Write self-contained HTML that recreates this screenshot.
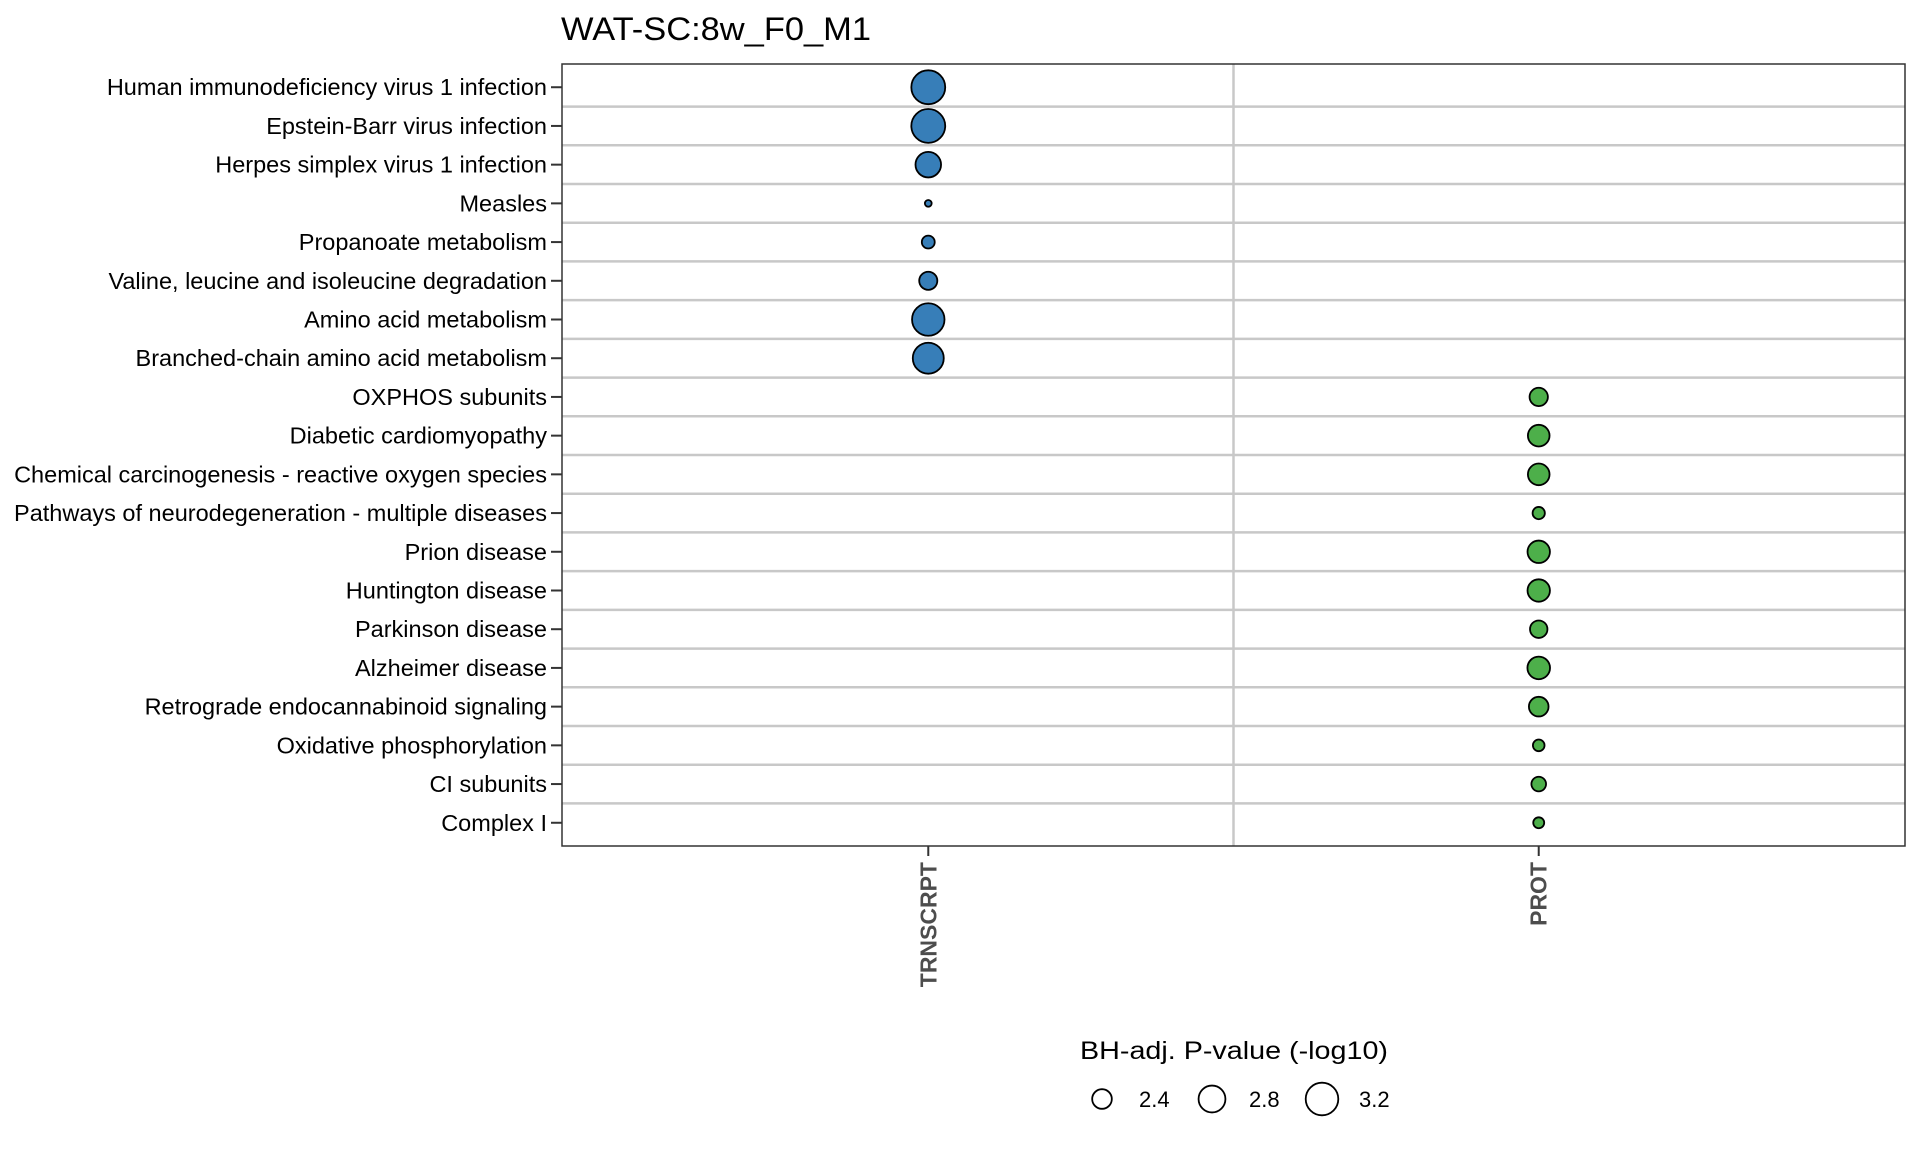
<!DOCTYPE html>
<html><head><meta charset="utf-8"><style>
html,body{margin:0;padding:0;background:#fff;}
svg text{font-family:"Liberation Sans",Arial,sans-serif;}
</style></head><body>
<svg id="chart" width="1920" height="1152" viewBox="0 0 1920 1152" xmlns="http://www.w3.org/2000/svg">
<rect x="0" y="0" width="1920" height="1152" fill="#fff"/>
<text x="561" y="40" font-size="32" textLength="310" lengthAdjust="spacingAndGlyphs" fill="#000">WAT-SC:8w_F0_M1</text>
<g id="grid"></g>
<g id="marks"></g>
<rect x="562" y="64" width="1343" height="782" fill="none" stroke="#333" stroke-width="1.5"/>
<g id="axes"></g>
<g id="legend">
<text x="1080" y="1059" font-size="25" textLength="308" lengthAdjust="spacingAndGlyphs">BH-adj. P-value (-log10)</text>
</g>
</svg>
<script>
const pathways = ["Human immunodeficiency virus 1 infection","Epstein-Barr virus infection","Herpes simplex virus 1 infection","Measles","Propanoate metabolism","Valine, leucine and isoleucine degradation","Amino acid metabolism","Branched-chain amino acid metabolism","OXPHOS subunits","Diabetic cardiomyopathy","Chemical carcinogenesis - reactive oxygen species","Pathways of neurodegeneration - multiple diseases","Prion disease","Huntington disease","Parkinson disease","Alzheimer disease","Retrograde endocannabinoid signaling","Oxidative phosphorylation","CI subunits","Complex I"];
const omes = ["TRNSCRPT","PROT"];
const pointOme = ["TRNSCRPT","TRNSCRPT","TRNSCRPT","TRNSCRPT","TRNSCRPT","TRNSCRPT","TRNSCRPT","TRNSCRPT","PROT","PROT","PROT","PROT","PROT","PROT","PROT","PROT","PROT","PROT","PROT","PROT"];
const pValues = [3.30,3.30,2.72,1.97,2.13,2.33,3.19,3.08,2.34,2.50,2.50,2.11,2.54,2.54,2.30,2.55,2.40,2.09,2.19,2.07];
const legendValues = [2.4,2.8,3.2];
const legendLabels = ["2.4","2.8","3.2"];

const NS="http://www.w3.org/2000/svg";
const P={l:562,r:1905,t:64,b:846};
const yStep=(P.b-P.t)/(pathways.length-1+1.2);
const xStep=(P.r-P.l)/(omes.length-1+1.2);
function yS(i){return P.t+(0.6+i)*yStep;}
function xS(o){return P.l+(0.6+omes.indexOf(o))*xStep;}
function rS(v){return Math.sqrt(Math.max(4,227.5*v-429));}
function mk(tag,attrs,parent){const e=document.createElementNS(NS,tag);for(const k in attrs)e.setAttribute(k,attrs[k]);parent.appendChild(e);return e;}
const grid=document.getElementById('grid'),marks=document.getElementById('marks'),axes=document.getElementById('axes'),legend=document.getElementById('legend');
for(let i=0;i<pathways.length-1;i++){
  const y=(yS(i)+yS(i+1))/2;
  const l=mk('line',{x1:P.l,x2:P.r,y1:y,y2:y,stroke:'#c8c8c8','stroke-width':2.5},grid);
  
  
}
for(let j=0;j<omes.length-1;j++){
  const x=(xS(omes[j])+xS(omes[j+1]))/2;
  const l=mk('line',{x1:x,x2:x,y1:P.t,y2:P.b,stroke:'#c8c8c8','stroke-width':2.5},grid);
  
  
}
pathways.forEach((p,i)=>{
  const y=yS(i);
  const t=mk('text',{x:547,y:y+8,'font-size':23.5,'text-anchor':'end',fill:'#000'},axes);
  t.textContent=p;
  
  
  const tk=mk('line',{x1:551,x2:562,y1:y,y2:y,stroke:'#333','stroke-width':2},axes);
  
  
  const c=mk('circle',{cx:xS(pointOme[i]),cy:y,r:rS(pValues[i])-1,fill:pointOme[i]==='PROT'?'#4daf4a':'#377eb8',stroke:'#000','stroke-width':1.8},marks);
  
  
});
omes.forEach(o=>{
  const x=xS(o);
  const tk=mk('line',{x1:x,x2:x,y1:P.b,y2:P.b+10,stroke:'#333','stroke-width':2},axes);
  
  
  const t=mk('text',{x:0,y:0,'font-size':23,'font-weight':'bold',fill:'#4d4d4d','text-anchor':'end',transform:`translate(${x+8},${P.b+16}) rotate(-90)`},axes);
  t.textContent=o;
  
  
});
const legX=[1102,1212,1322];
legendValues.forEach((v,i)=>{
  const c=mk('circle',{cx:legX[i],cy:1099,r:rS(v)-1,fill:'none',stroke:'#000','stroke-width':1.8},legend);
  
  
  const t=mk('text',{x:legX[i]+37,y:1107,'font-size':22},legend);
  t.textContent=legendLabels[i];
  
  
});
</script>
</body></html>
